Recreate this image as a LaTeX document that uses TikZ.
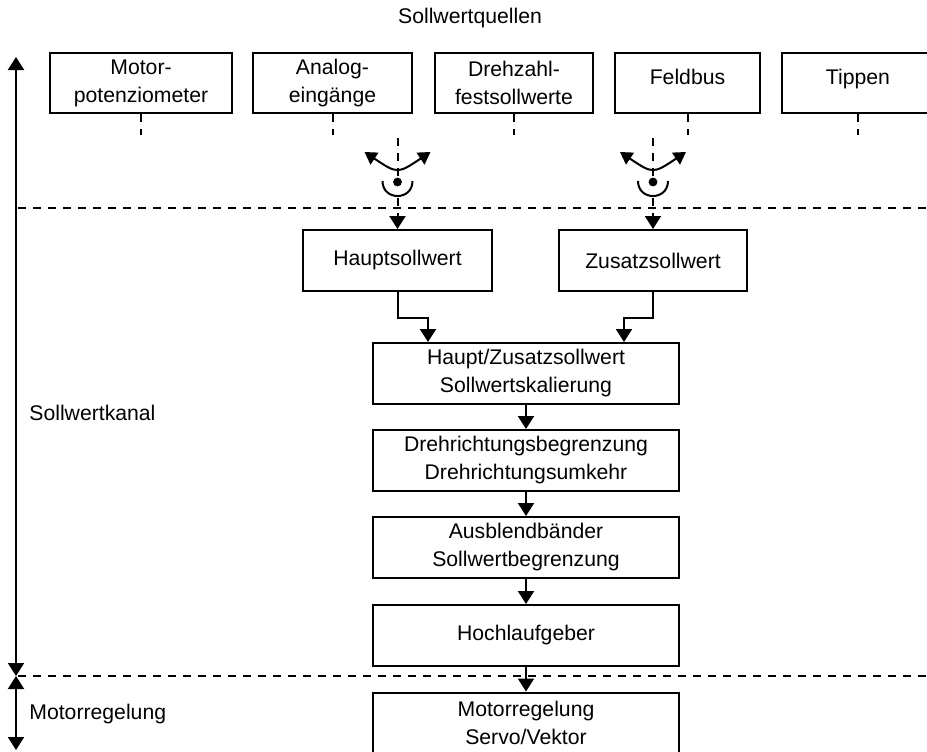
\documentclass[tikz,border=0pt]{standalone}
\usepackage{fontspec}
\setmainfont{Liberation Sans}
\usetikzlibrary{arrows.meta,calc}
\begin{document}
\begin{tikzpicture}[x=0.5pt,y=-0.5pt,
  txt/.style={font=\fontsize{10.6}{14}\selectfont, align=center, inner sep=0pt},
  box/.style={txt, draw, line width=1pt, minimum height=30.5pt},
  src/.style={box, minimum height=30pt},
  tri/.tip={Triangle[width=8pt,length=6.5pt]},
  stri/.tip={Triangle[width=7pt,length=6pt]},
  stem/.style={line width=1pt},
  tip/.style={stem, -tri},
  stub/.style={stem, dash pattern=on 4pt off 3.5pt},
  sep/.style={line width=0.8pt, dash pattern=on 4pt off 3.5pt},
]
\clip (0,0) rectangle (927,751);

% title
\node[txt] (title) at (470,18) {Sollwertquellen};

% setpoint sources
\node[src, minimum width=91pt]   (m1) at (141,83)   {Motor-\\potenziometer};
\node[src, minimum width=79.5pt] (m2) at (332.5,83) {Analog-\\eingänge};
\node[src, minimum width=79pt]   (m3) at (514,83)   {Drehzahl-\\festsollwerte};
\node[src, minimum width=72.5pt] (m4) at (687.5,83) {};
\node[src, minimum width=76pt]   (m5) at (858,83)   {};
\node[txt, anchor=base] (m4t) at (687.5,84) {Feldbus};
\node[txt, anchor=base] (m5t) at (858,84) {Tippen};

\foreach \s in {m1,m2,m3,m4,m5}
  \draw[stub] (\s.south) -- ++(0,21);

% channel blocks
\node[box, minimum width=94.5pt] (hs) at (397.5,260.5) {Hauptsollwert};
\node[box, minimum width=94pt]   (zs) at (653,260.5)   {Zusatzsollwert};
\node[box, minimum width=153pt]  (hz) at (526,373.5) {Haupt/Zusatzsollwert\\Sollwertskalierung};
\node[box, minimum width=153pt]  (dr) at (526,460.5) {Drehrichtungsbegrenzung\\Drehrichtungsumkehr};
\node[box, minimum width=153pt]  (ab) at (526,547.5) {Ausblendbänder\\Sollwertbegrenzung};
\node[box, minimum width=153pt]  (hl) at (526,635.5) {Hochlaufgeber};
\node[box, minimum width=153pt]  (mr) at (526,723)   {Motorregelung\\Servo/Vektor};

% selector switches
\foreach \n/\x/\t in {sa/397.5/hs, sb/653/zs}{
  \coordinate (\n) at (\x,182);
  \coordinate (\n top) at (\x,138);
  \draw[stub] (\n top) -- (\n);
  \fill (\n) circle[radius=2.2pt];
  \draw[stem] ($(\n)+(-15,-1)$) .. controls ($(\n)+(-15,19)$) and ($(\n)+(15,19)$) .. ($(\n)+(15,-1)$);
  \draw[stem, stri-stri] ($(\n)+(-33,-30)$) .. controls ($(\n)+(0,-8)$) .. ($(\n)+(33,-30)$);
  \draw[stub, -tri] ($(\n)+(0,16)$) -- (\t.north);
}

% signal flow
\draw[tip] (hs.south) -- ++(0,26) -| ($(hz.north)+(-98,0)$);
\draw[tip] (zs.south) -- ++(0,26) -| ($(hz.north)+(98,0)$);
\draw[tip] (hz) -- (dr);
\draw[tip] (dr) -- (ab);
\draw[tip] (ab) -- (hl);
\draw[tip] (hl) -- (mr);

% section separators
\coordinate (s1a) at (18,208);  \coordinate (s1b) at (930,208);
\coordinate (s2a) at (18,676);  \coordinate (s2b) at (930,676);
\draw[sep] (s1a) -- (s1b);
\draw[sep] (s2a) -- (s2b);

% section extents
\coordinate (ktop) at (16,57);
\coordinate (kmid) at (16,676);
\coordinate (kbot) at (16,750);
\draw[stem, tri-tri] (ktop) -- (kmid);
\draw[stem, tri-tri] (kmid) -- (kbot);
\node[txt, anchor=west] (kanal) at (29,413) {Sollwertkanal};
\node[txt, anchor=west] (regel) at (29,714) {Motorregelung};
\end{tikzpicture}
\end{document}
